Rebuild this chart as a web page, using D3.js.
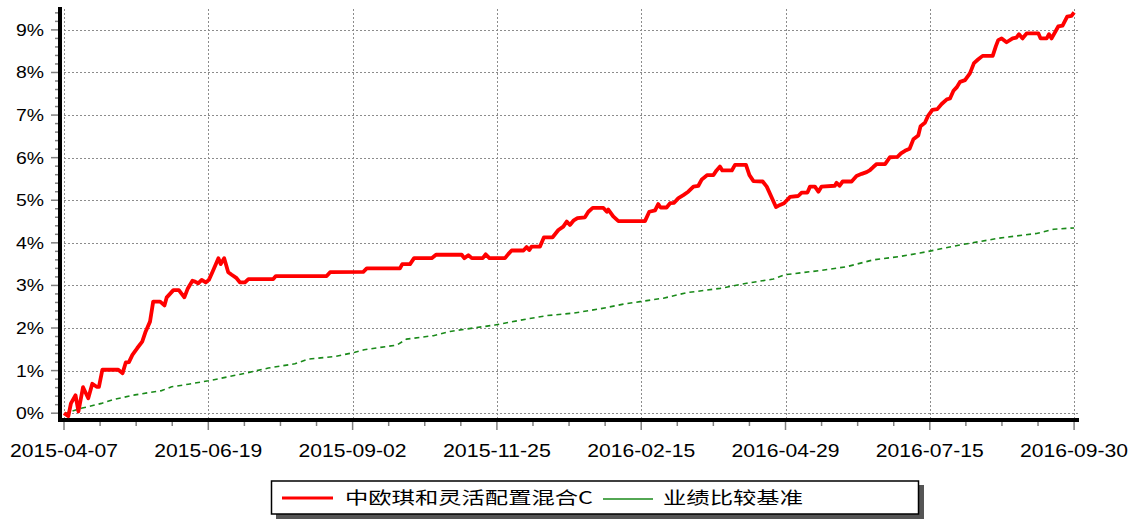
<!DOCTYPE html>
<html>
<head>
<meta charset="utf-8">
<title>中欧琪和灵活配置混合C</title>
<script src="https://d3js.org/d3.v7.min.js"></script>
<style>
  body { margin: 0; background: #fff; }
  text { font-family: "Liberation Sans", Arial, sans-serif; fill: #000; }
  .legend text { font-family: "Noto Sans CJK SC", "Liberation Sans", sans-serif; }
</style>
</head>
<body>
<script>
// x positions are trading-day indexes, values are cumulative return in %
var dateLabels = ["2015-04-07", "2015-06-19", "2015-09-02", "2015-11-25",
                  "2016-02-15", "2016-04-29", "2016-07-15", "2016-09-30"];
var dateTicks = [0, 50, 100, 150, 200, 250, 300, 350];
var pctTicks = [0, 1, 2, 3, 4, 5, 6, 7, 8, 9];

var seriesNames = ["中欧琪和灵活配置混合C", "业绩比较基准"];

var fundPoints = [
  [0,0.00],[1.5,-0.07],[2.4,0.23],[4,0.42],[5,0.04],[6.6,0.61],[8.4,0.35],[9.8,0.69],
  [11.3,0.62],[12.1,0.62],[13.3,1.02],[18.8,1.02],[20.3,0.94],[21.4,1.19],[22.5,1.20],
  [23.7,1.37],[25.4,1.53],[27.1,1.68],[28.3,1.92],[29.8,2.15],[30.9,2.62],[33.3,2.62],
  [34.8,2.53],[35.6,2.72],[37.9,2.89],[39.8,2.89],[41.7,2.72],[42.9,2.93],[44.5,3.11],
  [45.4,3.09],[46.5,3.05],[47.7,3.13],[49.1,3.07],[50.2,3.13],[51.4,3.31],[53.5,3.64],
  [54.3,3.50],[55.5,3.64],[56.9,3.31],[58.1,3.25],[59.8,3.17],[61,3.07],[62.7,3.07],
  [63.9,3.15],[72.5,3.15],[73.4,3.22],[91,3.22],[92.2,3.31],[103.7,3.32],[104.9,3.40],
  [116.4,3.40],[117.2,3.50],[119.9,3.50],[121.3,3.64],[127.4,3.64],[128.9,3.72],
  [137.8,3.72],[138.7,3.64],[140.1,3.71],[141.3,3.64],[145.1,3.64],[146.1,3.73],
  [147.4,3.64],[152.8,3.64],[154,3.74],[155.1,3.82],[159.2,3.82],[160.3,3.90],
  [161.2,3.83],[162,3.91],[164.9,3.91],[166.3,4.13],[169.3,4.13],[171.3,4.30],
  [173,4.38],[174.2,4.50],[175.3,4.42],[176.5,4.52],[177.9,4.58],[180.5,4.60],
  [181.7,4.73],[183.2,4.82],[186.9,4.82],[188.1,4.73],[188.6,4.78],[190.3,4.62],
  [192.1,4.51],[201.3,4.51],[202.8,4.73],[204.8,4.76],[205.9,4.91],[206.7,4.83],
  [208.8,4.83],[210,4.93],[211.4,4.94],[212.9,5.05],[214.6,5.12],[216.3,5.20],
  [218.1,5.32],[219.8,5.34],[221,5.49],[222.9,5.59],[225,5.59],[226.1,5.70],
  [227.3,5.79],[228.1,5.70],[231.4,5.70],[232.5,5.83],[236.3,5.83],[237.5,5.59],
  [238.9,5.45],[242.1,5.44],[243.5,5.32],[246.7,4.84],[248.1,4.89],[249.5,4.93],
  [251.6,5.08],[254.4,5.10],[255.6,5.18],[257.6,5.18],[258.5,5.32],[260.2,5.32],
  [261.4,5.20],[262.5,5.32],[267.1,5.34],[267.7,5.41],[268.7,5.34],[269.8,5.44],
  [272.9,5.44],[274.6,5.57],[276.4,5.62],[278.1,5.66],[279.3,5.71],[280.4,5.78],
  [281.6,5.85],[284.5,5.85],[286.2,6.01],[288.8,6.02],[290,6.10],[291.4,6.16],
  [293,6.21],[294.3,6.43],[296,6.52],[296.8,6.74],[298.3,6.82],[299.4,6.98],
  [300.9,7.12],[302.6,7.14],[304.1,7.26],[305.9,7.37],[307,7.39],[308.2,7.57],
  [309.3,7.65],[310.5,7.78],[312.2,7.82],[313.9,7.98],[315.3,8.22],[316.8,8.31],
  [318.3,8.39],[321.8,8.39],[322.9,8.62],[323.7,8.76],[324.9,8.80],[326.6,8.71],
  [328.7,8.80],[330,8.82],[330.9,8.90],[332.1,8.80],[333.6,8.92],[337.6,8.92],
  [338.4,8.80],[340.5,8.80],[341.3,8.90],[342.2,8.80],[344.5,9.08],[346,9.10],
  [347.6,9.31],[349.1,9.33],[350,9.41]
];

var benchPoints = [
  [0,-0.02],[2.5,0.04],[6.3,0.12],[13,0.23],[17.7,0.33],[24.6,0.43],[33.8,0.53],
  [37.3,0.62],[43.1,0.68],[50,0.76],[61.6,0.92],[70.8,1.06],[80,1.16],[84.7,1.27],
  [93.9,1.33],[100.8,1.43],[104,1.49],[115.3,1.60],[118.7,1.74],[128,1.82],
  [133.8,1.92],[141.8,2.00],[149.3,2.07],[160.3,2.21],[167.2,2.29],[176.5,2.35],
  [185.7,2.45],[193.8,2.56],[199.6,2.62],[207.7,2.70],[215.8,2.83],[227.3,2.93],
  [236.5,3.05],[245.8,3.15],[249.8,3.25],[262,3.35],[271.2,3.44],[280.4,3.60],
  [289.7,3.68],[296.6,3.76],[310.5,3.95],[324,4.11],[337,4.22],[343,4.32],[350,4.35]
];

var W = 1133, H = 519;

var svg = d3.select("body").append("svg")
    .attr("width", W)
    .attr("height", H);

// scales
var x = d3.scaleLinear().domain([-1.39, 351.35]).range([60, 1078]);
var y = d3.scaleLinear().domain([-0.16, 9.5]).range([420, 8.6]);

// grid
var grid = svg.append("g")
    .attr("stroke", "#8c8c8c")
    .attr("stroke-width", 1)
    .attr("stroke-dasharray", "2,2");

grid.selectAll(".hg").data(pctTicks).enter().append("line")
    .attr("x1", 60).attr("x2", 1078)
    .attr("y1", function(d) { return Math.round(y(d)) + 0.5; })
    .attr("y2", function(d) { return Math.round(y(d)) + 0.5; });

grid.selectAll(".vg").data(dateTicks).enter().append("line")
    .attr("x1", function(d) { return Math.round(x(d)) + 0.5; })
    .attr("x2", function(d) { return Math.round(x(d)) + 0.5; })
    .attr("y1", 9).attr("y2", 418);

// minor ticks
var minorY = d3.range(0, 9.41, 0.2);
svg.append("g").selectAll("line").data(minorY).enter().append("line")
    .attr("x1", function(d) { return Math.abs(d - Math.round(d)) < 0.01 ? 51 : 55; })
    .attr("x2", 59)
    .attr("y1", function(d) { return y(d); })
    .attr("y2", function(d) { return y(d); })
    .attr("stroke", "#808080")
    .attr("stroke-width", 1.5);

var minorX = d3.range(0, 350.1, 12.5);
svg.append("g").selectAll("line").data(minorX).enter().append("line")
    .attr("x1", function(d) { return x(d); })
    .attr("x2", function(d) { return x(d); })
    .attr("y1", 421)
    .attr("y2", function(d) { return d % 50 === 0 ? 430 : 426; })
    .attr("stroke", "#808080")
    .attr("stroke-width", 1.5);

// axis lines
svg.append("line")
    .attr("x1", 60).attr("x2", 60).attr("y1", 7).attr("y2", 422)
    .attr("stroke", "#000").attr("stroke-width", 4);
svg.append("line")
    .attr("x1", 58).attr("x2", 1079).attr("y1", 420).attr("y2", 420)
    .attr("stroke", "#000").attr("stroke-width", 4);

// tick labels
svg.append("g").selectAll("text").data(pctTicks).enter().append("text")
    .attr("x", 44)
    .attr("y", function(d) { return y(d) + 6; })
    .attr("text-anchor", "end")
    .attr("font-size", 16)
    .attr("textLength", 28)
    .attr("lengthAdjust", "spacingAndGlyphs")
    .text(function(d) { return d + "%"; });

svg.append("g").selectAll("text").data(dateTicks).enter().append("text")
    .attr("x", function(d) { return x(d); })
    .attr("y", 457)
    .attr("text-anchor", "middle")
    .attr("font-size", 17.5)
    .attr("textLength", 108)
    .attr("lengthAdjust", "spacingAndGlyphs")
    .text(function(d, i) { return dateLabels[i]; });

// series
var line = d3.line()
    .x(function(d) { return x(d[0]); })
    .y(function(d) { return y(d[1]); });

svg.append("path")
    .datum(benchPoints)
    .attr("d", line)
    .attr("fill", "none")
    .attr("stroke", "#1a8a1a")
    .attr("stroke-width", 1.6)
    .attr("stroke-dasharray", "5,4");

svg.append("path")
    .datum(fundPoints)
    .attr("d", line)
    .attr("fill", "none")
    .attr("stroke", "#ff0000")
    .attr("stroke-width", 3.8)
    .attr("stroke-linejoin", "round");

// legend
var lg = svg.append("g").attr("class", "legend");
lg.append("rect")
    .attr("x", 276).attr("y", 485).attr("width", 648).attr("height", 34)
    .attr("fill", "#555");
lg.append("rect")
    .attr("x", 271.5).attr("y", 481).attr("width", 647).attr("height", 33)
    .attr("fill", "#fff").attr("stroke", "#000").attr("stroke-width", 1.5);

lg.append("line")
    .attr("x1", 282).attr("x2", 333).attr("y1", 498).attr("y2", 498)
    .attr("stroke", "#ff0000").attr("stroke-width", 3);
lg.append("text")
    .attr("x", 345).attr("y", 504)
    .attr("font-size", 17)
    .attr("textLength", 248)
    .attr("lengthAdjust", "spacingAndGlyphs")
    .text(seriesNames[0]);

lg.append("line")
    .attr("x1", 603).attr("x2", 653).attr("y1", 499).attr("y2", 499)
    .attr("stroke", "#1a8a1a").attr("stroke-width", 1.5);
lg.append("text")
    .attr("x", 663).attr("y", 504)
    .attr("font-size", 17)
    .attr("textLength", 140)
    .attr("lengthAdjust", "spacingAndGlyphs")
    .text(seriesNames[1]);
</script>
</body>
</html>
